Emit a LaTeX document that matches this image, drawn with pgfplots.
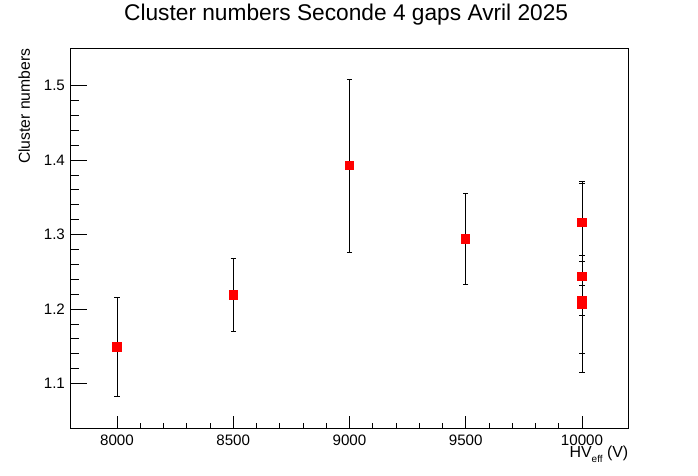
\documentclass[border=0pt]{standalone}
\usepackage{pgfplots}
\pgfplotsset{compat=1.18}
\usepackage{fontspec}
\setmainfont{Liberation Sans}

% HV scan, cluster numbers (x, y, error)
\pgfplotstableread{
x      y       ey
8000   1.1490  0.0663
8500   1.2190  0.0485
9000   1.3924  0.1161
9500   1.2941  0.0611
10000  1.3159  0.0524
10000  1.2435  0.1282
10000  1.2119  0.0201
10000  1.2066  0.0658
}\clusterdata

\pgfplotsset{
  rootframe/.style={
    scale only axis, width=558bp, height=380bp,
    at={(70.5bp,47.7bp)}, anchor=south west,
    xmin=7800, xmax=10200, ymin=1.04, ymax=1.55,
    axis line style={line width=0.9bp},
    tick style={line width=0.8bp, black},
    tick align=inside,
    /pgf/number format/assume math mode=true,
    ticklabel style={font=\fontsize{15.2}{17}\selectfont},
  }
}

\begin{document}
\begin{tikzpicture}
\useasboundingbox (0,0) rectangle (698bp,476bp);
\begin{axis}[rootframe,
  xtick={8000,8500,9000,9500,10000}, minor x tick num=4, xtick pos=bottom,
  scaled x ticks=false,
  ytick=\empty,
  major tick length=12bp, minor tick length=5.5bp,
  xticklabel style={anchor=base, yshift=-16.8bp, inner sep=0pt,
    /pgf/number format/.cd, fixed, 1000 sep={}},
  title={Cluster numbers Seconde 4 gaps Avril 2025},
  title style={at={(rel axis cs:0.494,1)}, anchor=base, yshift=21.8bp,
    inner sep=0pt, font=\fontsize{22.8}{26}\selectfont},
  xlabel={HV\raisebox{-0.3em}{\fontsize{10}{11}\selectfont eff} (V)},
  xlabel style={at={(rel axis cs:1,0)}, anchor=base east, yshift=-29bp,
    inner sep=0pt, font=\fontsize{16}{18}\selectfont},
  ylabel={Cluster numbers},
  ylabel style={at={(rel axis cs:-0.072,1)}, anchor=south east,
    inner sep=0pt, font=\fontsize{15.8}{18}\selectfont},
]
\addplot[only marks, mark=square*, mark size=4.15bp,
  mark options={fill=red, draw=red, line width=0pt},
  error bars/.cd, y dir=both, y explicit,
  error bar style={line width=0.8bp, black},
  error mark options={rotate=90, mark size=2.7bp, line width=0.8bp, black}]
  table[x=x, y=y, y error=ey] {\clusterdata};
\end{axis}
\begin{axis}[rootframe, hide x axis,
  xtick=\empty,
  ytick={1.1,1.2,1.3,1.4,1.5}, minor y tick num=4, ytick pos=left,
  major tick length=16.7bp, minor tick length=8.3bp,
  yticklabel style={anchor=east, xshift=-5.4bp, inner sep=0pt,
    /pgf/number format/.cd, fixed, fixed zerofill, precision=1},
]
\end{axis}
\end{tikzpicture}
\end{document}
